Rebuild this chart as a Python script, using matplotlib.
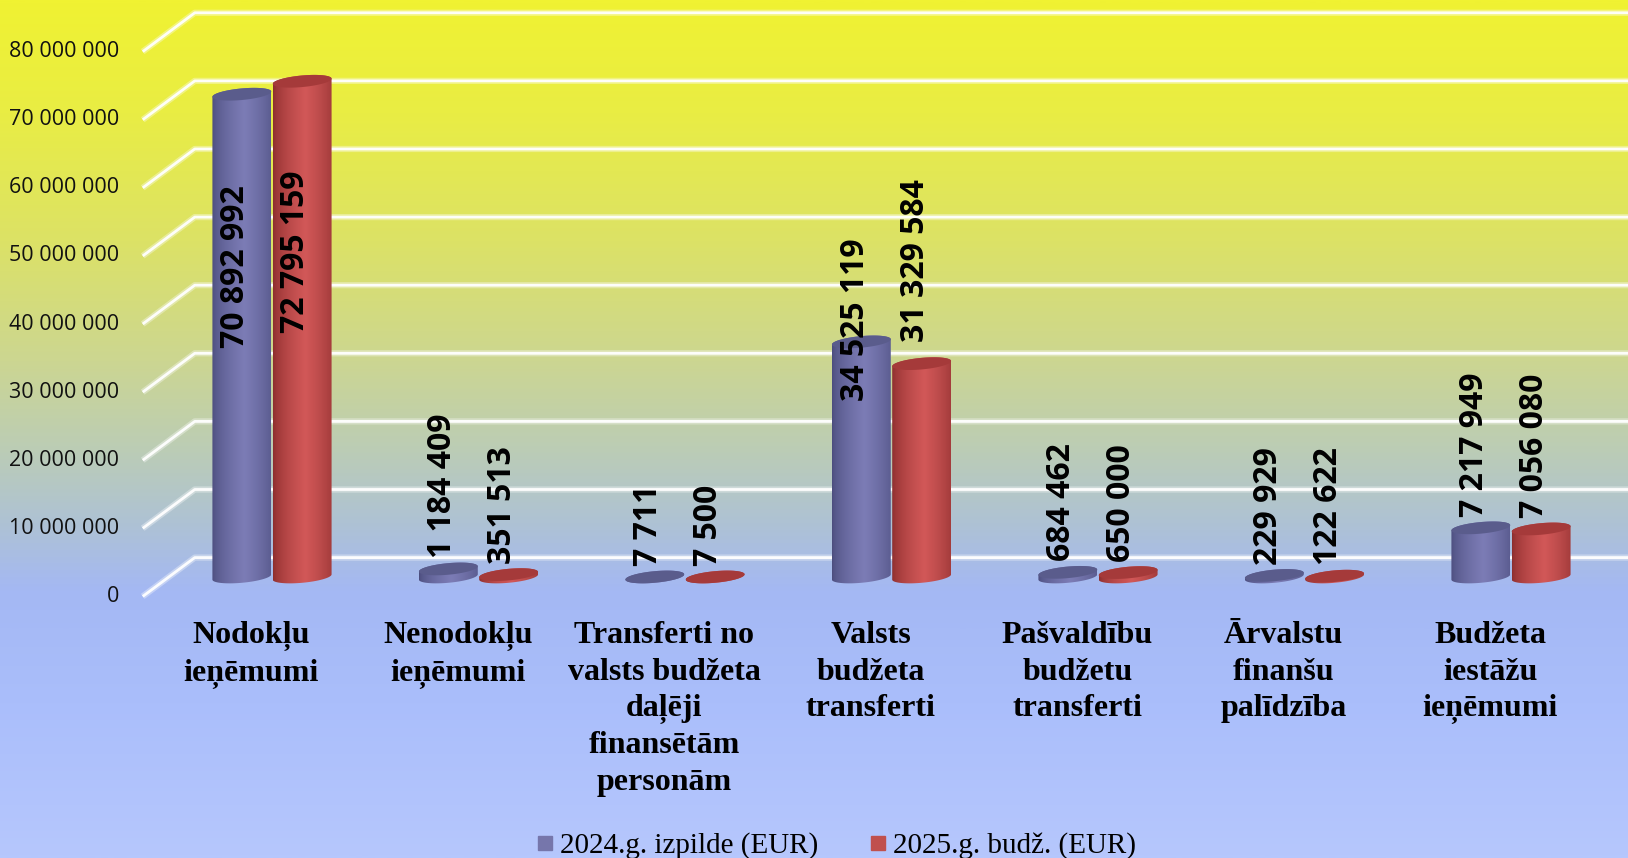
import matplotlib
matplotlib.use("Agg")
import matplotlib.pyplot as plt
import numpy as np
from matplotlib.path import Path
from matplotlib.patches import PathPatch
from matplotlib.lines import Line2D
from matplotlib.colors import LinearSegmentedColormap, to_rgb

# ---- data -------------------------------------------------------------
categories = [
    "Nodokļu\nieņēmumi",
    "Nenodokļu\nieņēmumi",
    "Transferti no\nvalsts budžeta\ndaļēji\nfinansētām\npersonām",
    "Valsts\nbudžeta\ntransferti",
    "Pašvaldību\nbudžetu\ntransferti",
    "Ārvalstu\nfinanšu\npalīdzība",
    "Budžeta\niestāžu\nieņēmumi",
]
izpilde_2024 = [70892992, 1184409, 7711, 34525119, 684462, 229929, 7217949]
budzets_2025 = [72795159, 351513, 7500, 31329584, 650000, 122622, 7056080]
series_names = ["2024.g. izpilde (EUR)", "2025.g. budž. (EUR)"]
y_ticks = [0, 10e6, 20e6, 30e6, 40e6, 50e6, 60e6, 70e6, 80e6]

# where Excel put the labels of the tall cylinders (bottom of text, EUR)
label_bottom = {(0, 0): 33.6e6, (0, 1): 35.9e6, (3, 0): 25.9e6, (3, 1): 34.5e6}

# ---- style ------------------------------------------------------------
W, H, DPI = 1628, 858, 100
PX_X = 206.5            # px per category
PX_Y = 6.81e-6          # px per EUR
X0, Y0 = 272, 577       # pixel of category 0 / value 0 on the bar plane
DX, DY = 0.126, 2.85e6  # 3D depth offset (front = -, back = +)
BAR_W, BAR_OFF = 0.285, 0.146
CAP_B = 0.85e6          # half height of the cap ellipse
CAP_K = 2.7e6           # tilt of the caps (EUR per category unit)

BLUE = dict(edge="#4a4c7c", mid="#7c7cb6", cap="#5a5c8c", legend="#7676ab")
RED = dict(edge="#8a2c2c", mid="#d25858", cap="#a53a3a", legend="#c0504d")

fig = plt.figure(figsize=(W / DPI, H / DPI), dpi=DPI)

# background gradient
bg = fig.add_axes([0, 0, 1, 1], zorder=-5)
stops = [(0.0, (240, 242, 50)), (0.13, (233, 237, 68)), (0.28, (220, 226, 102)),
         (0.42, (204, 214, 145)), (0.52, (188, 205, 180)), (0.61, (174, 194, 212)),
         (0.69, (164, 184, 244)), (0.82, (170, 190, 251)), (1.0, (182, 199, 253))]
bg_cmap = LinearSegmentedColormap.from_list(
    "bg", [(s, tuple(c / 255 for c in col)) for s, col in stops])
bg.imshow(np.linspace(0, 1, 512).reshape(-1, 1), cmap=bg_cmap, aspect="auto",
          extent=[0, 1, 0, 1], origin="upper")
bg.axis("off")

ax = fig.add_axes([0, 0, 1, 1])
ax.patch.set_alpha(0)
ax.axis("off")
xlim = (-X0 / PX_X, (W - X0) / PX_X)
ylim = (-(H - Y0) / PX_Y, Y0 / PX_Y)
ax.set_xlim(*xlim)
ax.set_ylim(*ylim)

n = len(categories)
left = -0.5

# gridlines: side wall diagonal + back wall horizontal
for v in y_ticks:
    xs = [left - DX, left + DX, xlim[1] + 0.2]
    ys = [v - DY, v + DY, v + DY]
    ax.plot(xs, ys, color="white", lw=4.5, alpha=0.35, solid_capstyle="butt", zorder=1)
    ax.plot(xs, ys, color="white", lw=2.0, alpha=0.95, solid_capstyle="butt", zorder=1)
    ax.text(left - DX - 0.115, v - DY, f"{int(v):,}".replace(",", " "),
            ha="right", va="center", fontsize=15.5, family="Open Sans", color="#111111")


def ellipse_pts(cx, cy, t):
    a = BAR_W / 2
    x = cx + a * np.cos(t)
    y = cy + CAP_B * np.sin(t) + CAP_K * (x - cx)
    return x, y


def cylinder(cx, v, col, z):
    a = BAR_W / 2
    tb = np.linspace(np.pi, 2 * np.pi, 60)
    tt = np.linspace(0, np.pi, 60)
    bx, by = ellipse_pts(cx, 0, tb)
    tx, ty = ellipse_pts(cx, v, tt)
    verts = np.vstack([np.column_stack([bx, by]), np.column_stack([tx, ty])])
    verts = np.vstack([verts, verts[:1]])
    codes = [Path.MOVETO] + [Path.LINETO] * (len(verts) - 2) + [Path.CLOSEPOLY]
    body = PathPatch(Path(verts, codes), facecolor="none", edgecolor="none", zorder=z)
    ax.add_patch(body)
    # horizontal shading of the cylinder
    e, m = np.array(to_rgb(col["edge"])), np.array(to_rgb(col["mid"]))
    s = np.linspace(0, 1, 128)
    w = np.clip(1 - np.abs(s - 0.55) / 0.55, 0, 1) ** 0.6
    grad = (e[None, :] * (1 - w[:, None]) + m[None, :] * w[:, None])[None, :, :]
    im = ax.imshow(grad, extent=[cx - a, cx + a, -3 * CAP_B - CAP_K * a, v + 3 * CAP_B + CAP_K * a],
                   aspect="auto", interpolation="bilinear", zorder=z)
    im.set_clip_path(body)
    # top cap
    cx_, cy_ = ellipse_pts(cx, v, np.linspace(0, 2 * np.pi, 80))
    ax.fill(cx_, cy_, color=col["cap"], zorder=z + 0.1, lw=0)


for i in range(n):
    for k, (vals, col) in enumerate([(izpilde_2024, BLUE), (budzets_2025, RED)]):
        cx = i + (2 * k - 1) * BAR_OFF
        v = vals[i]
        cylinder(cx, v, col, 3 + i * 0.5 + k * 0.2)
        yb = label_bottom.get((i, k), v + 1.6e6)
        ax.text(cx - 0.03, yb, f"{v:,}".replace(",", " "), rotation=90,
                ha="center", va="bottom", fontsize=23, fontweight="bold",
                family="Open Sans", color="black", zorder=10)
    ax.text(i - 0.1, -6.5e6, categories[i], ha="center", va="top",
            fontsize=23, fontweight="bold", family="Liberation Serif",
            linespacing=1.335, color="black")

ax.set_xlim(*xlim)
ax.set_ylim(*ylim)

handles = [Line2D([], [], ls="none", marker="s", markersize=10, color=c["legend"])
           for c in (BLUE, RED)]
fig.legend(handles, series_names, loc="center", bbox_to_anchor=(0.514, 0.014),
           ncol=2, frameon=False, prop={"family": "Liberation Serif", "size": 21},
           handlelength=0.5, handletextpad=0.25, columnspacing=1.8,
           borderpad=0, borderaxespad=0)

fig.savefig("out.png", dpi=DPI)
